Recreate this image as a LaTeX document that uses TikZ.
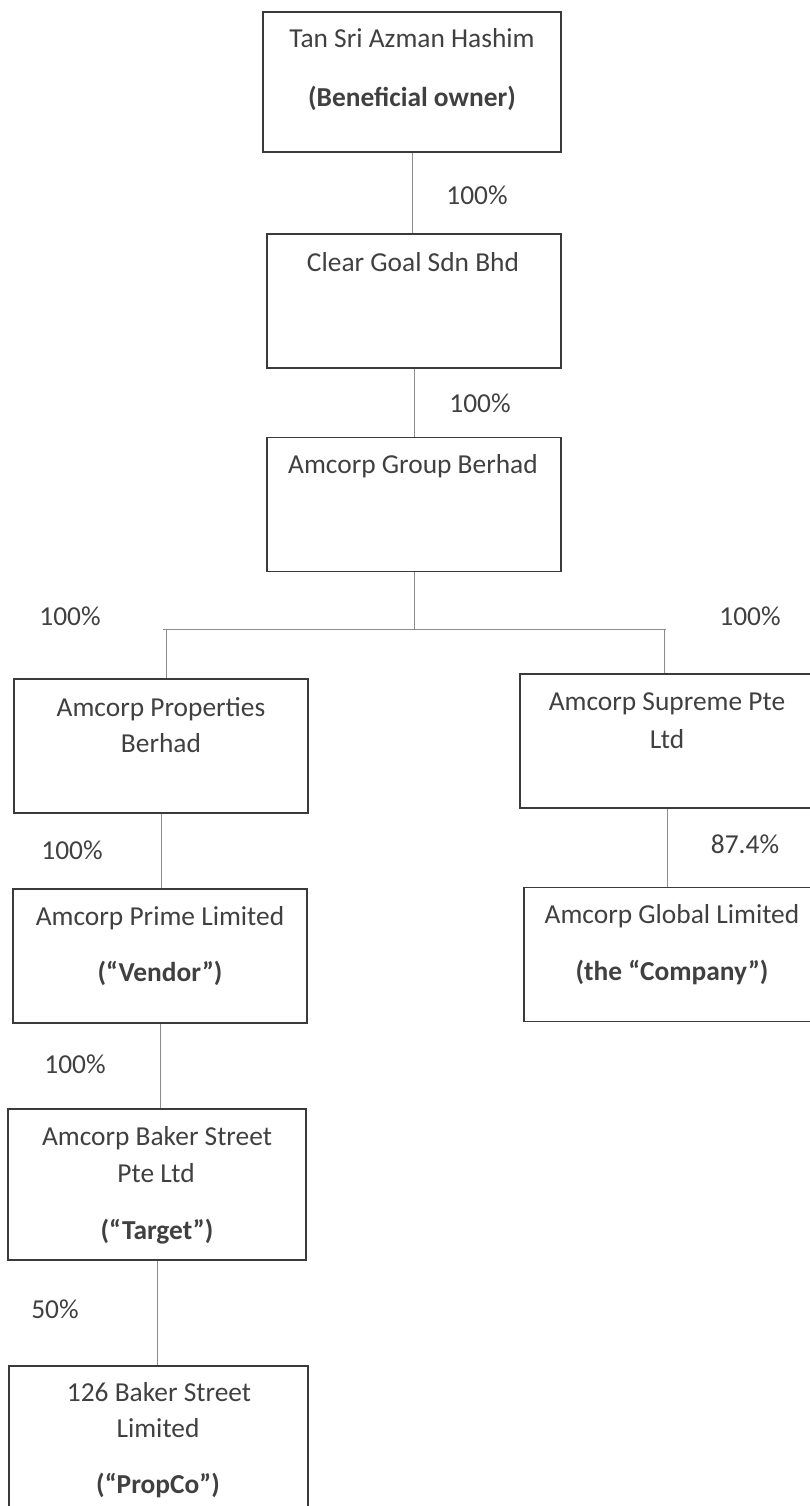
\documentclass[tikz,border=0pt]{standalone}
\usepackage{fontspec}
\setmainfont{Carlito}
\usetikzlibrary{positioning}

\definecolor{inkgray}{HTML}{404040}
\definecolor{boxgray}{HTML}{3A3A3A}
\definecolor{linkgray}{HTML}{8C8C8C}

\tikzset{
  entity/.style={draw=boxgray, line width=1.2pt, minimum width=294pt, minimum height=134pt, inner sep=0pt},
  caption/.style={text=inkgray, anchor=base, inner sep=0pt, font=\fontsize{27.4}{33}\selectfont},
  tag/.style={caption, font=\fontsize{27.4}{33}\selectfont\bfseries},
  link/.style={draw=linkgray, line width=1pt},
}

\begin{document}
\begin{tikzpicture}[x=1pt, y=-1pt]
\useasboundingbox (0,0) rectangle (809,1506);

% Boxes of the ownership chain
\node[entity, minimum width=298pt, minimum height=140pt] (owner) at (412,82) {};
\node[entity] (cleargoal) at (414,301) {};
\node[entity] (group) at (414,504.5) {};
\node[entity] (properties) at (161,746) {};
\node[entity] (supreme) at (667,741) {};
\node[entity] (prime) at (160,956) {};
\node[entity] (global) at (671,954.5) {};
\node[entity, minimum width=298pt, minimum height=151pt] (target) at (157,1184.5) {};
\node[entity, minimum width=299pt, minimum height=150pt] (propco) at (158.5,1441) {};

% Split below Amcorp Group Berhad
\coordinate (fork) at (414,629);
\coordinate (forkL) at (163,629);
\coordinate (forkR) at (666,629);
\coordinate (dropL) at (166,629);
\coordinate (dropR) at (664,629);

% Connectors
\draw[link] (owner.south) -- (owner.south |- cleargoal.north);
\draw[link] (cleargoal.south) -- (cleargoal.south |- group.north);
\draw[link] (group.south) -- (fork);
\draw[link] (forkL) -- (forkR);
\draw[link] (dropL) -- (dropL |- properties.north);
\draw[link] (dropR) -- (dropR |- supreme.north);
\draw[link] (properties.south) -- (properties.south |- prime.north);
\draw[link] (supreme.south) -- (supreme.south |- global.north);
\draw[link] (prime.south) -- (prime.south |- target.north);
\draw[link] (target.south) -- (target.south |- propco.north);

% Names in the boxes
\node[caption] (ownerA) at (412,48) {Tan Sri Azman Hashim};
\node[tag] (ownerB) at (412,107) {(Beneficial owner)};
\node[caption] (cleargoalA) at (413,271) {Clear Goal Sdn Bhd};
\node[caption] (groupA) at (413,473) {Amcorp Group Berhad};
\node[caption] (propertiesA) at (161,716) {Amcorp Properties};
\node[caption] (propertiesB) at (161,752) {Berhad};
\node[caption] (supremeA) at (667,710) {Amcorp Supreme Pte};
\node[caption] (supremeB) at (667,748) {Ltd};
\node[caption] (primeA) at (160,925) {Amcorp Prime Limited};
\node[tag] (primeB) at (160,981) {(“Vendor”)};
\node[caption] (globalA) at (672,923) {Amcorp Global Limited};
\node[tag] (globalB) at (672,980) {(the “Company”)};
\node[caption] (targetA) at (157,1145) {Amcorp Baker Street};
\node[caption] (targetB) at (156,1182) {Pte Ltd};
\node[tag] (targetC) at (157,1239) {(“Target”)};
\node[caption] (propcoA) at (159,1401) {126 Baker Street};
\node[caption] (propcoB) at (158,1437) {Limited};
\node[tag] (propcoC) at (158,1493) {(“PropCo”)};

% Shareholdings
\foreach \i/\x/\y/\t in {a/477/205/100\%, b/480/412/100\%, c/70/625/100\%, d/750/625/100\%,
                         e/72/859/100\%, f/745/853/87.4\%, g/75/1073/100\%, h/55/1318/50\%} {
    \node[caption] (pct\i) at (\x,\y) {\t};
}

\end{tikzpicture}
\end{document}
